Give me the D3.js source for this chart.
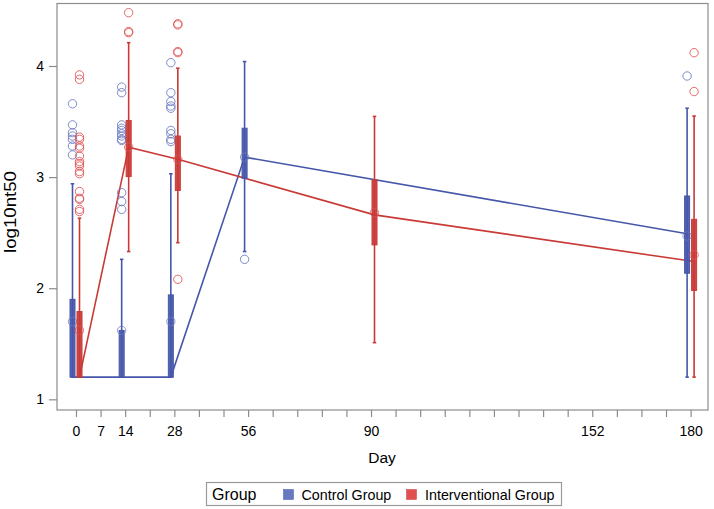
<!DOCTYPE html>
<html>
<head>
<meta charset="utf-8">
<script src="https://cdn.jsdelivr.net/npm/d3@7"></script>
<style>
  html, body { margin: 0; padding: 0; background: #fff; }
  svg { display: block; }
  text { font-family: "Liberation Sans", Arial, sans-serif; fill: #000; }
</style>
</head>
<body>
<svg id="chart" width="714" height="509"></svg>
<script>
// ---- Data ----
const tickDays  = [0, 7, 14, 28, 56, 90, 152, 180];
const tickSlots = [0, 1, 2, 4, 7, 12, 21, 25];
const yTicks = [1, 2, 3, 4];
const groups = ["Control Group", "Interventional Group"];

const controlDays    = [0, 14, 28, 56, 180];
const controlLow     = [1.2, 1.2, 1.2, 2.33, 1.2];
const controlQ1      = [1.2, 1.2, 1.2, 2.99, 2.135];
const controlMedian  = [1.2, 1.2, 1.2, 3.18, 2.49];
const controlQ3      = [1.90, 1.62, 1.94, 3.44, 2.83];
const controlHigh    = [2.94, 2.26, 3.03, 4.04, 3.62];
const controlMean    = [1.70, 1.62, 1.70, 3.18, 2.47];
const controlOutliers = [
  [3.66, 3.47, 3.40, 3.37, 3.34, 3.28, 3.20],
  [3.81, 3.76, 3.47, 3.44, 3.42, 3.39, 3.37, 3.34, 3.33, 2.86, 2.78, 2.71],
  [4.03, 3.76, 3.68, 3.64, 3.62, 3.42, 3.39, 3.34, 3.32],
  [2.26],
  [3.91]
];

const intDays    = [0, 14, 28, 90, 180];
const intLow     = [1.2, 2.33, 2.41, 1.51, 1.2];
const intQ1      = [1.2, 3.005, 2.88, 2.39, 1.98];
const intMedian  = [1.2, 3.27, 3.16, 2.66, 2.24];
const intQ3      = [1.79, 3.51, 3.37, 2.976, 2.62];
const intHigh    = [2.63, 4.21, 3.98, 3.546, 3.55];
const intMean    = [1.62, 3.27, 3.16, 2.68, 2.30];
const intOutliers = [
  [3.92, 3.88, 3.36, 3.34, 3.28, 3.26, 3.19, 3.14, 3.12, 3.10, 3.05, 3.03, 2.87, 2.81, 2.80, 2.71, 2.69],
  [4.48, 4.31, 4.30],
  [4.38, 4.37, 4.13, 4.12, 2.08],
  [],
  [4.12, 3.77]
];

// ---- Layout ----
const svg = d3.select("#chart");
const frame = {left: 57, right: 708, top: 3.5, bottom: 410};
const colors = {"Control Group": "#4657a9", "Interventional Group": "#c93a37"};
const lightColors = {"Control Group": "#6878c0", "Interventional Group": "#e05050"};
const offsets = {"Control Group": -3.5, "Interventional Group": 3.5};

const daySlot = d3.scaleLinear().domain(tickDays).range(tickSlots);
const x = d3.scaleLinear().domain([0, 25]).range([76, 690.6]);
const y = d3.scaleLinear().domain([0.904, 4.5625]).range([frame.bottom, frame.top]);

function build(days, low, q1, med, q3, high, mean, outl, name) {
  return days.map((d, i) => ({day: d, low: low[i], q1: q1[i], med: med[i], q3: q3[i], high: high[i], mean: mean[i], out: outl[i], group: name}));
}
const series = [
  build(controlDays, controlLow, controlQ1, controlMedian, controlQ3, controlHigh, controlMean, controlOutliers, groups[0]),
  build(intDays, intLow, intQ1, intMedian, intQ3, intHigh, intMean, intOutliers, groups[1])
];
const px = d => x(daySlot(d.day)) + offsets[d.group];

// Frame
svg.append("rect")
  .attr("x", frame.left).attr("y", frame.top)
  .attr("width", frame.right - frame.left).attr("height", frame.bottom - frame.top)
  .attr("fill", "none").attr("stroke", "#8c8c8c").attr("stroke-width", 1.2);

// X axis (slots with labels at selected days)
const slotLabel = {};
tickSlots.forEach((s, i) => slotLabel[s] = tickDays[i]);
const xAxis = d3.axisBottom(x).tickValues(d3.range(0, 26)).tickSize(7).tickPadding(9)
  .tickFormat(s => slotLabel[s] !== undefined ? String(slotLabel[s]) : "");
const gx = svg.append("g").attr("transform", `translate(0,${frame.bottom})`).call(xAxis);
gx.select(".domain").remove();
gx.selectAll(".tick line").attr("stroke", "#8c8c8c").attr("stroke-width", 1.2);
gx.selectAll(".tick text").attr("font-size", 14).attr("font-family", "Liberation Sans, Arial, sans-serif").attr("fill", "#000");

// Y axis
const yAxis = d3.axisLeft(y).tickValues(yTicks).tickSize(8).tickPadding(5).tickFormat(d3.format("d"));
const gy = svg.append("g").attr("transform", `translate(${frame.left},0)`).call(yAxis);
gy.select(".domain").remove();
gy.selectAll(".tick line").attr("stroke", "#8c8c8c").attr("stroke-width", 1.2);
gy.selectAll(".tick text").attr("font-size", 14).attr("font-family", "Liberation Sans, Arial, sans-serif").attr("fill", "#000");

// Axis titles
svg.append("text").attr("x", 382).attr("y", 463).attr("text-anchor", "middle")
  .attr("font-size", 15.5).text("Day");
svg.append("text").attr("transform", "translate(16,212) rotate(-90)").attr("text-anchor", "middle")
  .attr("font-size", 16).attr("textLength", 82).attr("lengthAdjust", "spacingAndGlyphs").text("log10nt50");

// Median connect lines
series.forEach(s => {
  const line = d3.line().x(px).y(d => y(d.med));
  svg.append("path").datum(s).attr("d", line)
    .attr("fill", "none").attr("stroke", colors[s[0].group]).attr("stroke-width", 1.6);
});

// Boxes
const bw = 5, cap = 3.5;
series.forEach(s => {
  const g = svg.append("g");
  const c = colors[s[0].group];
  s.forEach(d => {
    const cx = px(d);
    g.append("line").attr("x1", cx).attr("x2", cx).attr("y1", y(d.low)).attr("y2", y(d.high))
      .attr("stroke", c).attr("stroke-width", 1.6);
    [d.low, d.high].forEach(v => {
      g.append("line").attr("x1", cx - cap / 2).attr("x2", cx + cap / 2).attr("y1", y(v)).attr("y2", y(v))
        .attr("stroke", c).attr("stroke-width", 1.6);
    });
    g.append("rect").attr("x", cx - bw / 2).attr("width", bw)
      .attr("y", y(d.q3)).attr("height", Math.max(0.5, y(d.q1) - y(d.q3)))
      .attr("fill", c).attr("fill-opacity", 0.92).attr("stroke", c).attr("stroke-width", 1);
    g.append("circle").attr("cx", cx).attr("cy", y(d.mean)).attr("r", 4.2)
      .attr("fill", "none").attr("stroke", lightColors[d.group]).attr("stroke-opacity", 0.75).attr("stroke-width", 1);
    d.out.forEach(v => {
      g.append("circle").attr("cx", cx).attr("cy", y(v)).attr("r", 4.2)
        .attr("fill", "none").attr("stroke", lightColors[d.group]).attr("stroke-opacity", 0.85).attr("stroke-width", 1);
    });
  });
});

// Legend
const lg = svg.append("g");
lg.append("rect").attr("x", 206.5).attr("y", 482.5).attr("width", 355).attr("height", 23)
  .attr("fill", "#fff").attr("stroke", "#9a9a9a").attr("stroke-width", 1.2);
lg.append("text").attr("x", 212).attr("y", 500).attr("font-size", 16).text("Group");
const legendItems = [
  {name: groups[0], sx: 283.5, tx: 301.5},
  {name: groups[1], sx: 406.5, tx: 425}
];
legendItems.forEach(it => {
  lg.append("rect").attr("x", it.sx).attr("y", 489.5).attr("width", 10).attr("height", 10)
    .attr("fill", lightColors[it.name]).attr("stroke", colors[it.name]).attr("stroke-width", 0.5);
  lg.append("text").attr("x", it.tx).attr("y", 499.5).attr("font-size", 14.3).text(it.name);
});
</script>
</body>
</html>
